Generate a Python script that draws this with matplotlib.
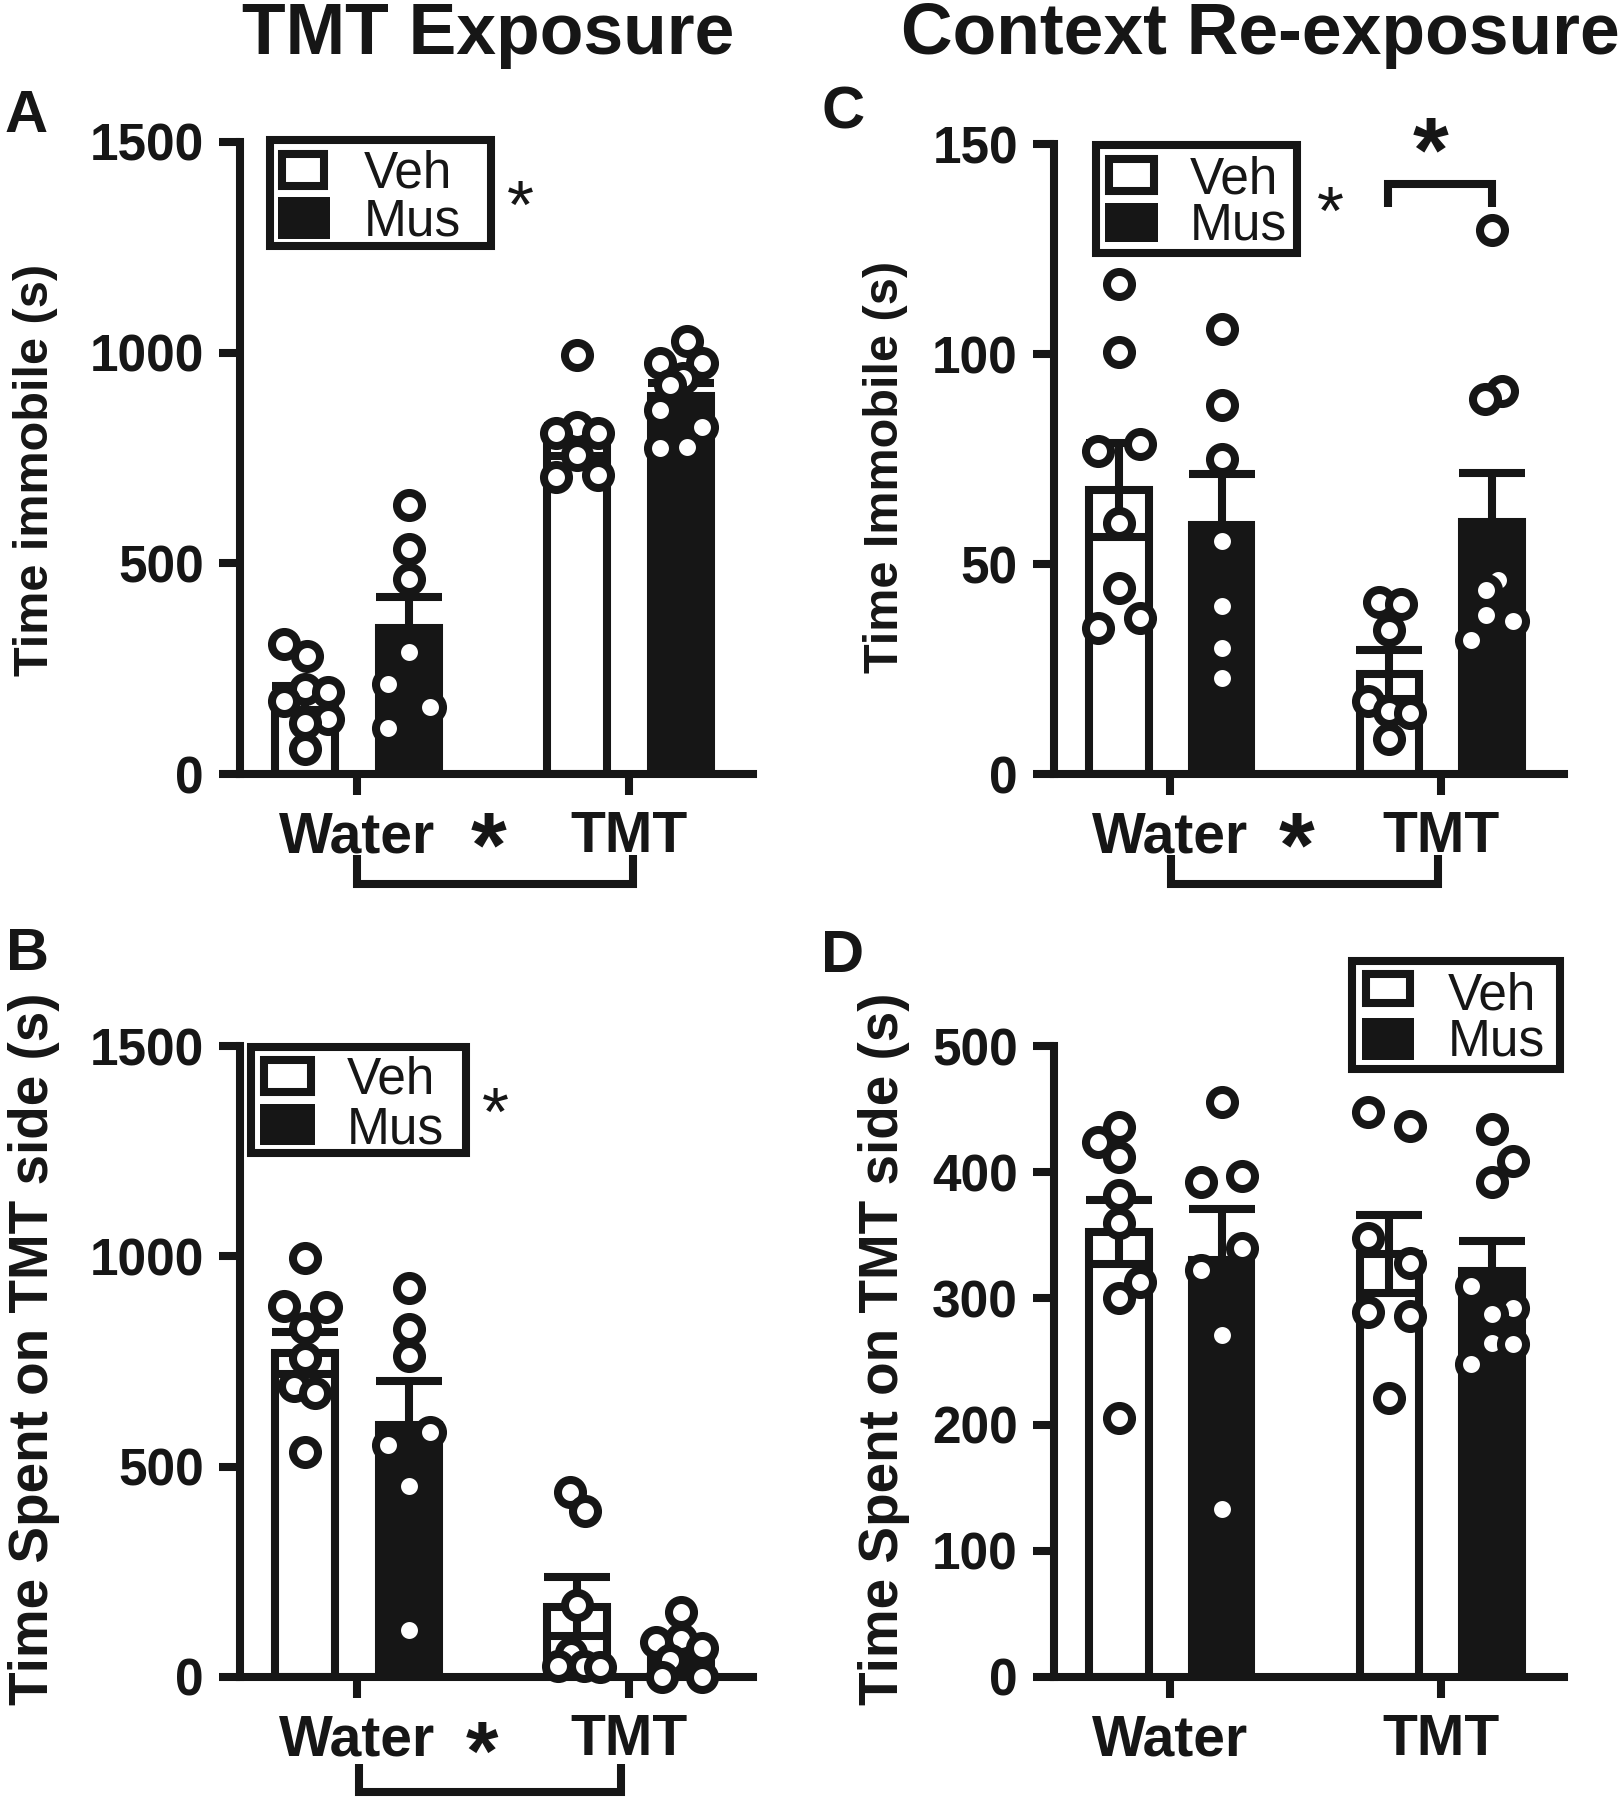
import numpy as np
import matplotlib
matplotlib.use("Agg")
import matplotlib.pyplot as plt
from matplotlib.patches import Rectangle
from matplotlib.lines import Line2D
from matplotlib.transforms import Affine2D

plt.rcParams["font.family"] = ["Liberation Sans", "DejaVu Sans"]
plt.rcParams["mathtext.fontset"] = "custom"
plt.rcParams["mathtext.rm"] = "Liberation Sans"
plt.rcParams["mathtext.bf"] = "Liberation Sans:bold"

# ==========================================
# DATA (bar order: Water-Veh, Water-Mus, TMT-Veh, TMT-Mus)
# ==========================================

groups = ["Water", "TMT"]
drugs = ["Veh", "Mus"]

# A - TMT exposure, time immobile (s)
a_mean = [180, 347, 790, 898]
a_sem = [28, 74, 35, 30]
a_pts = [
    [309, 281, 202, 194, 174, 130, 122, 59],
    [638, 535, 463, 289, 213, 158, 110],
    [995, 824, 809, 809, 757, 709, 705],
    [1027, 975, 975, 940, 924, 864, 824, 777, 773],
]
a_dx = [
    [-1, 0.1, 0, 1.1, -1, 1.1, 0, 0],
    [0, 0, 0, 0, -1, 1, -1],
    [0, 0, -1, 1, 0, 1, -1],
    [0.3, -1, 1, 0.1, -0.5, -1, 1, 0.3, -1],
]

# B - TMT exposure, time on TMT side (s)
b_mean = [771, 599, 167, 62]
b_sem = [50, 105, 70, 22]
b_pts = [
    [997, 881, 879, 830, 759, 691, 674, 536],
    [924, 827, 764, 583, 551, 453, 112],
    [439, 395, 171, 57, 25, 25, 24],
    [155, 90, 84, 68, 40, 1, 0],
]
b_dx = [
    [0, -1, 1, 0, 0, -0.55, 0.45, 0],
    [0, 0, 0, 1, -1, 0, 0],
    [-0.35, 0.35, 0, -0.3, -0.9, 0.3, 1.1],
    [0, 0, -1.2, 1, -0.5, -0.9, 1],
]

# C - context re-exposure, time immobile (s)
c_mean = [67.6, 59.4, 23.7, 59.9]
c_sem = [11.1, 12.0, 5.9, 11.7]
c_pts = [
    [116.7, 100.5, 78.5, 76.9, 59.7, 44.3, 37.1, 34.8],
    [106.0, 87.8, 75.1, 55.5, 40.1, 30.1, 22.8],
    [41.0, 40.5, 34.2, 17.4, 15.1, 14.6, 8.3],
    [129.6, 91.2, 89.4, 46.3, 43.7, 37.8, 36.5, 31.9],
]
c_dx = [
    [0, 0, 1, -1, 0, 0, 1, -1],
    [0, 0, 0, 0, 0, 0, 0],
    [-0.5, 0.55, 0, -1, 0, 1, 0],
    [0, 0.5, -0.35, 0.3, -0.3, -0.3, 1, -1],
]

# D - context re-exposure, time on TMT side (s)
d_mean = [352.6, 330.6, 335, 321.6]
d_sem = [25, 40, 31, 24]
d_pts = [
    [435.5, 424, 412, 382, 360, 313, 300, 205],
    [456, 397, 392.6, 339.7, 322.6, 271, 133],
    [448, 437, 348, 328, 289, 286, 221],
    [434, 408.7, 392.6, 309.7, 292, 288, 265, 263.5, 248],
]
d_dx = [
    [0, -1, 0, 0, 0, 1, 0, 0],
    [0, 1, -1, 1, -1, 0, 0],
    [-1, 1, -1, 1, -1, 1, 0],
    [0, 1, 0, -1, 1, 0, 0, 1, -1],
]

a_ticks = [0, 500, 1000, 1500]
b_ticks = [0, 500, 1000, 1500]
c_ticks = [0, 50, 100, 150]
d_ticks = [0, 100, 200, 300, 400, 500]

# ==========================================
# STYLE / LAYOUT
# ==========================================

W, H = 1622, 1800
ink = "#161616"
lw = 5.8
fs = 37
off = 0.19
bar_w = 0.22
step = 0.077

fig = plt.figure(figsize=(W / 100, H / 100), dpi=100)
pix = Affine2D().scale(1 / W, -1 / H).translate(0, 1) + fig.transFigure


def px_rect(left, top, right, bottom):
    return [left / W, 1 - bottom / H, (right - left) / W, (bottom - top) / H]


def panel(rect, mean, sem, pts, dx, yticks):
    ax = fig.add_axes(px_rect(*rect))
    xs = [0 - off, 0 + off, 1 - off, 1 + off]
    fills = ["white", ink, "white", ink]
    ax.bar(xs, mean, width=bar_w, color=fills, edgecolor=ink,
           linewidth=lw, zorder=2)
    ax.errorbar(xs, mean, yerr=sem, fmt="none", ecolor=ink, elinewidth=lw,
                capsize=24, capthick=lw, zorder=3)
    for x, p, d in zip(xs, pts, dx):
        ax.scatter(x + np.array(d) * step, p, s=324, facecolor="white",
                   edgecolor=ink, linewidths=lw, zorder=4, clip_on=False)
    ax.set_xlim(-0.43, 1.456)
    ax.set_ylim(0, yticks[-1])
    ax.set_yticks(yticks)
    ax.set_xticks([0, 1])
    ax.set_xticklabels(groups)
    for s in ["top", "right"]:
        ax.spines[s].set_visible(False)
    for s in ["left", "bottom"]:
        ax.spines[s].set_linewidth(lw)
        ax.spines[s].set_color(ink)
        ax.spines[s].set_capstyle("projecting")
    ax.tick_params(axis="y", length=15, width=lw, color=ink, pad=11)
    ax.tick_params(axis="x", length=15, width=lw, color=ink, pad=11)
    for t in ax.get_yticklabels():
        t.set_fontsize(fs)
        t.set_fontweight("bold")
        t.set_color(ink)
    for t in ax.get_xticklabels():
        t.set_fontsize(41)
        t.set_fontweight("bold")
        t.set_color(ink)
    ax.patch.set_alpha(0)
    return ax


def text(x, y, s, size, weight="bold", **kw):
    fig.text(x, y, s, transform=pix, fontsize=size, fontweight=weight,
             color=ink, **kw)


def star(cx, cy, size, bold=False):
    # mathtext box sits a little above the glyph; nudge it down
    s = r"$\mathbf{*}$" if bold else r"$*$"
    text(cx, cy + 0.27 * size, s, size, ha="center", va="center")


def line(xs, ys):
    fig.add_artist(Line2D(xs, ys, transform=pix, lw=lw, color=ink,
                          solid_capstyle="butt", solid_joinstyle="miter"))


def legend(frame, veh_box, mus_box, tx, base1, base2):
    x0, y0, x1, y1 = frame
    fig.add_artist(Rectangle((x0, y0), x1 - x0, y1 - y0, transform=pix,
                             facecolor="white", edgecolor=ink, lw=lw))
    x0, y0, x1, y1 = veh_box
    fig.add_artist(Rectangle((x0 + 4, y0 + 4), x1 - x0 - 8, y1 - y0 - 8,
                             transform=pix, facecolor="white",
                             edgecolor=ink, lw=lw))
    x0, y0, x1, y1 = mus_box
    fig.add_artist(Rectangle((x0, y0), x1 - x0, y1 - y0, transform=pix,
                             facecolor=ink, edgecolor="none"))
    text(tx, base1, drugs[0], fs, "normal", va="baseline")
    text(tx, base2, drugs[1], fs, "normal", va="baseline")


# ==========================================
# PANELS
# ==========================================

panel((240, 142, 753, 774), a_mean, a_sem, a_pts, a_dx, a_ticks)
panel((240, 1046, 753, 1677), b_mean, b_sem, b_pts, b_dx, b_ticks)
panel((1054, 144, 1564, 774), c_mean, c_sem, c_pts, c_dx, c_ticks)
panel((1054, 1046, 1564, 1677), d_mean, d_sem, d_pts, d_dx, d_ticks)

# titles, panel letters, axis labels
text(488, 54, "TMT Exposure", 51.5, ha="center", va="baseline")
text(1260, 54, "Context Re-exposure", 51.5, ha="center", va="baseline")

text(26, 116, "A", 43, ha="center", va="center")
text(28, 955, "B", 43, ha="center", va="center")
text(843, 113, "C", 43, ha="center", va="center")
text(843, 956, "D", 43, ha="center", va="center")

text(36, 470, "Time immobile (s)", 35, rotation=90, ha="center", va="center")
text(885, 467, "Time Immobile (s)", 35, rotation=90, ha="center", va="center")
text(34, 1349, "Time Spent on TMT side (s)", 39.5, rotation=90,
     ha="center", va="center")
text(884, 1349, "Time Spent on TMT side (s)", 39.5, rotation=90,
     ha="center", va="center")

# legends
legend((270, 140, 491, 246), (278, 150, 328, 190), (278, 197, 330, 239),
       364, 187, 236)
legend((251, 1047, 466, 1153), (260, 1056, 315, 1096), (260, 1104, 315, 1145),
       347, 1094, 1143)
legend((1096, 145, 1297, 253), (1105, 155, 1158, 195), (1105, 203, 1158, 242),
       1190, 193, 240)
legend((1352, 961, 1560, 1069), (1362, 970, 1414, 1007), (1362, 1018, 1414, 1060),
       1448, 1010, 1056)

# significance marks
star(520, 195, 50)
star(495, 1102, 50)
star(1330, 201, 50)

line([357, 357, 633, 633], [855, 884, 884, 855])
star(489, 834, 66, bold=True)
line([359, 359, 621, 621], [1764, 1792, 1792, 1764])
star(482, 1741, 60, bold=True)  # kept slightly higher so it stays inside the page
line([1171, 1171, 1438, 1438], [855, 884, 884, 855])
star(1297, 834, 66, bold=True)
line([1388, 1388, 1492, 1492], [207, 184, 184, 207])
star(1431, 139, 66, bold=True)

fig.savefig("out.png", dpi=100)
